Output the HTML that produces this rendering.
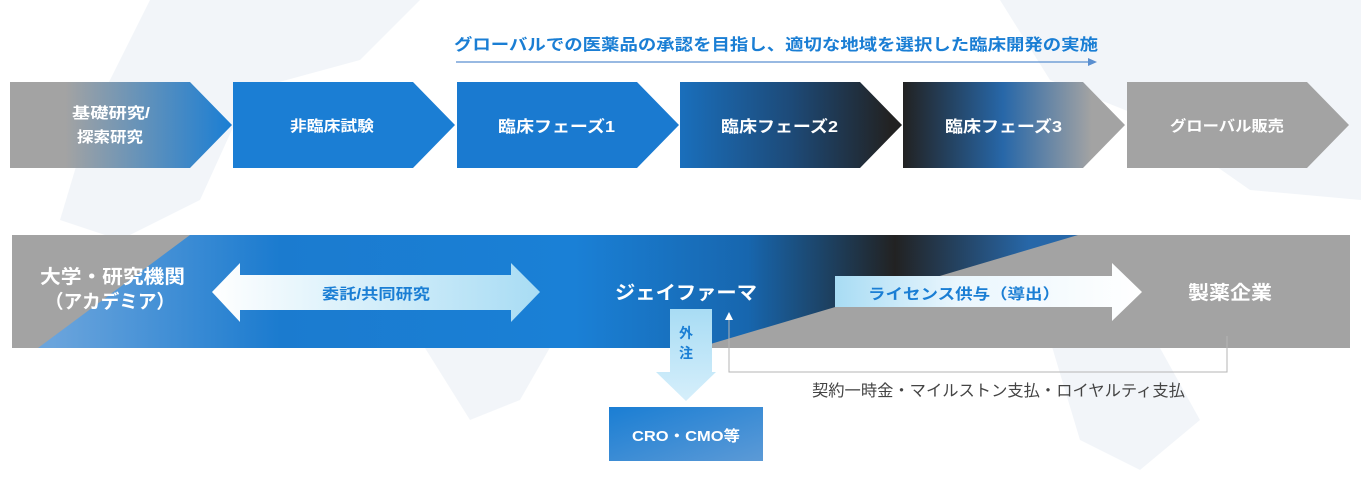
<!DOCTYPE html>
<html><head><meta charset="utf-8"><style>
body{margin:0;width:1361px;height:483px;background:#fff;overflow:hidden;font-family:"Liberation Sans","Noto Sans CJK JP",sans-serif;}
svg{display:block}
</style></head><body>
<svg width="1361" height="483" viewBox="0 0 1361 483" xmlns="http://www.w3.org/2000/svg" font-family="Liberation Sans, Noto Sans CJK JP, sans-serif">
<defs>
<linearGradient id="c1" x1="0" x2="1"><stop offset="0.25" stop-color="#a3a3a3"/><stop offset="1" stop-color="#1a7ed4"/></linearGradient>
<linearGradient id="c4" x1="0" x2="1"><stop offset="0" stop-color="#1a6fbc"/><stop offset="0.5" stop-color="#1d4a78"/><stop offset="0.95" stop-color="#222"/></linearGradient>
<linearGradient id="c5" x1="0" x2="1"><stop offset="0" stop-color="#222"/><stop offset="0.45" stop-color="#2767a8"/><stop offset="0.85" stop-color="#a3a3a3"/></linearGradient>
<linearGradient id="band" x1="0" x2="1"><stop offset="0.03" stop-color="#6aa4dc"/><stop offset="0.2" stop-color="#1b7bcf"/><stop offset="0.42" stop-color="#1a80d6"/><stop offset="0.55" stop-color="#1766ae"/><stop offset="0.66" stop-color="#222"/><stop offset="0.76" stop-color="#2767a8"/></linearGradient>
<linearGradient id="da" x1="0" x2="1"><stop offset="0" stop-color="#fff"/><stop offset="1" stop-color="#a8dcf4"/></linearGradient>
<linearGradient id="ra" x1="0" x2="1"><stop offset="0" stop-color="#a8dcf4"/><stop offset="0.4" stop-color="#eaf6fd"/><stop offset="1" stop-color="#fff"/></linearGradient>
<linearGradient id="dn" x1="0" x2="0" y1="0" y2="1"><stop offset="0" stop-color="#a8dcf4"/><stop offset="1" stop-color="#d6effb"/></linearGradient>
<linearGradient id="cro" x1="0" x2="1" y1="0" y2="1"><stop offset="0" stop-color="#1a7ed4"/><stop offset="1" stop-color="#5c9ad6"/></linearGradient>
</defs>
<g fill="#e9eef5" opacity="0.6">
<path d="M150 0 L420 0 L360 60 L250 90 L200 200 L120 240 L60 220 L90 120 Z"/>
<path d="M1000 0 L1361 0 L1361 200 L1250 190 L1150 120 L1050 80 Z"/>
<path d="M1050 340 L1150 330 L1200 420 L1140 470 L1080 440 Z"/>
<path d="M420 340 L560 330 L520 400 L470 420 Z"/>
</g>
<text x="454" y="50" textLength="644" lengthAdjust="spacingAndGlyphs" font-size="16" font-weight="bold" fill="#1a7ed4">グローバルでの医薬品の承認を目指し、適切な地域を選択した臨床開発の実施</text>
<line x1="456" y1="62" x2="1090" y2="62" stroke="#5a8fd0" stroke-width="1.2"/>
<path d="M1088 58 L1097 62 L1088 66 Z" fill="#5a8fd0"/>
<path d="M10 82 H190 L232 125 L190 168 H10 Z" fill="url(#c1)"/>
<path d="M233 82 H413 L455 125 L413 168 H233 Z" fill="#1b7ed4"/>
<path d="M457 82 H637 L679 125 L637 168 H457 Z" fill="#1a7ad0"/>
<path d="M680 82 H860 L902 125 L860 168 H680 Z" fill="url(#c4)"/>
<path d="M903 82 H1083 L1125 125 L1083 168 H903 Z" fill="url(#c5)"/>
<path d="M1127 82 H1307 L1349 125 L1307 168 H1127 Z" fill="#a3a3a3"/>
<g fill="#fff" font-weight="bold" font-size="15">
<text x="72" y="118" textLength="78" lengthAdjust="spacingAndGlyphs">基礎研究/</text><text x="77" y="142" textLength="66" lengthAdjust="spacingAndGlyphs">探索研究</text>
<text x="290" y="131" textLength="84" lengthAdjust="spacingAndGlyphs">非臨床試験</text>
<text x="498" y="132" textLength="117" lengthAdjust="spacingAndGlyphs" font-size="16">臨床フェーズ1</text>
<text x="721" y="132" textLength="117" lengthAdjust="spacingAndGlyphs" font-size="16">臨床フェーズ2</text>
<text x="945" y="132" textLength="117" lengthAdjust="spacingAndGlyphs" font-size="16">臨床フェーズ3</text>
<text x="1170" y="131" textLength="114" lengthAdjust="spacingAndGlyphs">グローバル販売</text>
</g>
<rect x="12" y="235" width="1338" height="113" fill="url(#band)"/>
<path d="M12 235 H190 L38 348 H12 Z" fill="#a3a3a3"/>
<path d="M1078 235 H1350 V348 H697 Z" fill="#a3a3a3"/>
<g fill="#fff" font-weight="bold" font-size="19">
<text x="40" y="283" textLength="145" lengthAdjust="spacingAndGlyphs">大学・研究機関</text>
<text x="45" y="308" textLength="130" lengthAdjust="spacingAndGlyphs">（アカデミア）</text>
<text x="615" y="299" textLength="142" lengthAdjust="spacingAndGlyphs">ジェイファーマ</text>
<text x="1188" y="299" textLength="84" lengthAdjust="spacingAndGlyphs">製薬企業</text>
</g>
<path d="M212 292 L240 263 V275 H511 V263 L540 292 L511 322 V310 H240 V322 Z" fill="url(#da)"/>
<text x="322" y="299" textLength="108" lengthAdjust="spacingAndGlyphs" font-size="15" font-weight="bold" fill="#1a7ed4">委託/共同研究</text>
<path d="M835 276 H1112 V263 L1142 292 L1112 321 V307 H835 Z" fill="url(#ra)"/>
<text x="868" y="299" textLength="192" lengthAdjust="spacingAndGlyphs" font-size="15" font-weight="bold" fill="#1a7ed4">ライセンス供与（導出）</text>
<path d="M670 309 H712 V372 H716 L686 401 L656 372 H670 Z" fill="url(#dn)"/>
<text x="686" y="338" text-anchor="middle" font-size="14" font-weight="bold" fill="#1a7ed4">外</text>
<text x="686" y="358" text-anchor="middle" font-size="14" font-weight="bold" fill="#1a7ed4">注</text>
<rect x="609" y="407" width="154" height="54" fill="url(#cro)"/>
<text x="632" y="441" textLength="108" lengthAdjust="spacingAndGlyphs" font-size="15" font-weight="bold" fill="#fff">CRO・CMO等</text>
<path d="M1227 336 V372 H729 V318" fill="none" stroke="#b5b5b5" stroke-width="1"/>
<path d="M725 320 L729 312 L733 320 Z" fill="#fff"/>
<text x="812" y="396" textLength="373" lengthAdjust="spacingAndGlyphs" font-size="16" fill="#444">契約一時金・マイルストン支払・ロイヤルティ支払</text>
</svg>
</body></html>
